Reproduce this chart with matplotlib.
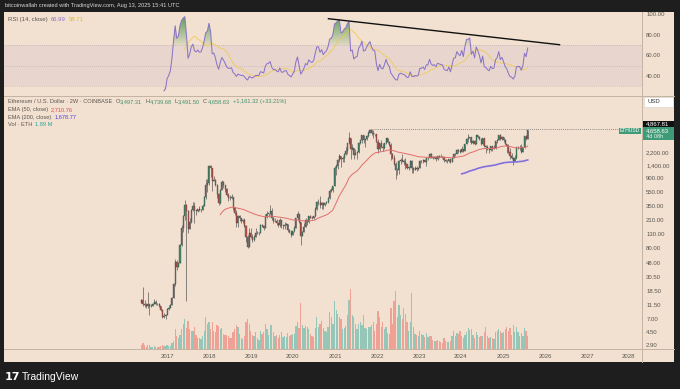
import numpy as np
import pandas as pd
import matplotlib
matplotlib.use("Agg")
import matplotlib.pyplot as plt
import matplotlib.dates as mdates
from matplotlib.patches import Rectangle
from matplotlib.path import Path

plt.rcParams['font.family'] = ['Liberation Sans', 'DejaVu Sans']

# ---- data: ETHUSD 2W candles (Coinbase) ----
start_date = '2016-05-23'
first_open = 12.5
closes = [
    13.8, 12.0, 11.6,
    10.9, 11.8, 11.0, 11.2, 11.9, 12.9, 11.9, 11.9, 11.0, 9.8, 7.6, 7.9, 8.2,
    9.9, 10.5, 11.4, 14.5, 23.6, 50.0, 43.0, 48.0, 90.0, 160, 245, 355, 290, 155, 200, 300, 345, 295, 285, 310, 295, 297, 350, 465, 700, 755,
    1370, 1250, 815, 840, 720, 520, 385, 600, 790, 715, 620, 500, 455, 450, 465, 320, 275, 195, 245, 225, 205, 210, 175, 118, 84, 138,
    117, 107, 120, 138, 137, 137, 180, 172, 162, 235, 265, 270, 290, 230, 205, 205, 190, 180, 212, 172, 172, 182, 183, 151, 141, 128,
    145, 160, 225, 265, 200, 123, 143, 170, 210, 200, 245, 230, 225, 240, 310, 390, 390, 355, 385, 352, 377, 395, 448, 575, 590, 685,
    1260, 1380, 1680, 1940, 1720, 1790, 2080, 2240, 2950, 3580, 2400, 2510, 1980, 2140, 2190, 3010, 3330, 3940, 3330, 3390, 3850, 4290, 4650, 4300, 4100, 4050,
    3080, 2400, 3010, 2630, 2540, 2950, 3520, 3060, 2830, 2060, 1810, 1450, 1200, 1170, 1600, 1700, 1620, 1570, 1470, 1280, 1300, 1620, 1250, 1200, 1265, 1220,
    1265, 1630, 1630, 1690, 1565, 1790, 1795, 2090, 1870, 1800, 1830, 1750, 1900, 1870, 1850, 1830, 1680, 1630, 1620, 1730, 1560, 1780, 2050, 2060, 2350, 2270,
    2230, 2470, 2290, 2880, 3490, 3520, 3640, 3010, 3250, 2930, 3900, 3700, 3420, 2930, 3540, 2690, 2610, 2430, 2320, 2660, 2470, 2500, 3180, 3360, 4000, 3420,
    3640, 3300, 2880, 2690, 2210, 1890, 1820, 1620, 1790, 2510, 2530, 2530, 2230, 2570, 3760, 3497.31, 4658.63,
]
highs = [
    14.2, 21.0, 13.4,
    12.4, 18.0, 12.0, 11.8, 12.2, 14.2, 13.5, 12.4, 12.1, 11.2, 10.0, 8.6, 8.5,
    10.3, 11.6, 11.7, 14.9, 24.5, 55, 53, 50, 92, 180, 250, 420, 365, 300, 230, 310, 390, 390, 300, 315, 350, 310, 370, 485, 860, 860,
    1420, 1430, 1260, 960, 880, 730, 540, 620, 830, 800, 720, 630, 535, 500, 515, 470, 330, 300, 255, 250, 230, 220, 225, 180, 125, 160,
    160, 130, 125, 160, 145, 142, 185, 185, 180, 265, 285, 275, 362, 320, 235, 230, 222, 195, 225, 215, 185, 197, 194, 185, 155, 150,
    148, 175, 230, 290, 232, 200, 145, 190, 225, 215, 248, 250, 240, 248, 330, 410, 440, 480, 390, 390, 380, 415, 475, 620, 630, 685,
    1350, 1440, 1750, 2040, 1940, 1940, 2140, 2640, 2960, 4380, 3600, 2890, 2520, 2400, 2250, 3050, 3360, 3950, 3970, 3470, 3920, 4460, 4867.81, 4550, 4700, 4150,
    4050, 3400, 3030, 3280, 3000, 2970, 3580, 3580, 3200, 2960, 2150, 1990, 1540, 1280, 1650, 1780, 2030, 1720, 1780, 1480, 1340, 1660, 1680, 1330, 1350, 1350,
    1275, 1680, 1680, 1740, 1720, 1840, 1840, 2140, 2120, 1920, 1860, 1920, 1930, 1960, 2030, 1890, 1860, 1740, 1670, 1750, 1760, 1870, 2140, 2130, 2400, 2450,
    2440, 2720, 2480, 2900, 3520, 4090, 3680, 3730, 3330, 3350, 3980, 3950, 3790, 3470, 3560, 3450, 2800, 2830, 2480, 2720, 2700, 2770, 3240, 3440, 4000, 4110,
    3750, 3740, 3430, 2860, 2860, 2500, 2100, 1850, 1960, 2740, 2740, 2780, 2880, 2590, 3860, 3940, 4739.68,
]
lows = [
    12.2, 11.0, 10.8,
    10.2, 10.5, 8.2, 10.7, 11.0, 11.8, 11.5, 11.6, 10.6, 9.3, 7.3, 7.4, 7.0,
    8.0, 9.7, 10.5, 11.3, 14.4, 22, 38, 42, 48, 88, 140, 215, 13, 135, 155, 195, 290, 195, 250, 280, 290, 280, 295, 355, 440, 560,
    700, 940, 580, 800, 680, 450, 360, 375, 590, 640, 560, 480, 410, 420, 440, 300, 250, 168, 170, 205, 195, 192, 170, 100, 82, 83,
    115, 100, 102, 118, 130, 128, 135, 165, 150, 160, 225, 235, 260, 215, 190, 200, 178, 165, 170, 160, 155, 158, 178, 140, 137, 118,
    127, 140, 160, 215, 195, 90, 125, 140, 165, 180, 195, 225, 220, 220, 232, 300, 360, 320, 310, 310, 340, 375, 380, 440, 560, 565,
    685, 1000, 1240, 1570, 1300, 1560, 1550, 1960, 2050, 2880, 1730, 2330, 1720, 1980, 1720, 2160, 2860, 3030, 2950, 2650, 3270, 3680, 4160, 3900, 3500, 3780,
    3050, 2160, 2250, 2570, 2300, 2460, 2900, 2960, 2710, 1700, 1710, 1430, 880, 1000, 1050, 1440, 1540, 1420, 1220, 1230, 1190, 1270, 1080, 1070, 1190, 1150,
    1190, 1260, 1530, 1500, 1560, 1370, 1690, 1780, 1790, 1750, 1770, 1620, 1690, 1820, 1840, 1810, 1550, 1580, 1530, 1580, 1520, 1560, 1780, 1930, 2030, 2150,
    2160, 2190, 2170, 2280, 2860, 3050, 3060, 2850, 2860, 2820, 2900, 3580, 3360, 2820, 2840, 2610, 2110, 2320, 2150, 2260, 2310, 2410, 2450, 3040, 3350, 3300,
    3300, 3060, 2860, 2100, 2120, 1760, 1760, 1385, 1560, 1760, 2420, 2380, 2110, 2190, 2520, 3360, 3491.50,
]
volumes = [  # million ETH
    0.5, 0.9, 0.6,
    0.3, 0.5, 0.6, 0.3, 0.3, 0.4, 0.3, 0.3, 0.3, 0.4, 0.5, 0.4, 0.4,
    0.5, 0.4, 0.4, 0.8, 1.2, 2.8, 1.8, 1.5, 2.0, 2.8, 3.5, 4.2, 3.0, 4.0, 2.8, 2.5, 2.6, 3.2, 2.0, 1.6, 1.5, 1.4, 1.8, 2.6, 4.5, 3.5,
    3.8, 2.8, 3.9, 2.5, 2.4, 3.4, 3.3, 2.9, 3.0, 2.2, 2.0, 2.0, 1.9, 1.5, 1.6, 2.4, 2.8, 3.4, 3.1, 2.2, 1.6, 1.4, 1.8, 3.8, 4.2, 3.6,
    2.6, 2.0, 1.9, 2.4, 1.6, 1.3, 2.6, 2.2, 2.4, 3.5, 2.8, 2.0, 3.4, 3.4, 2.4, 1.8, 2.0, 1.6, 2.0, 2.4, 1.7, 1.8, 1.7, 2.3, 1.9, 2.0,
    2.1, 2.2, 3.3, 3.9, 3.0, 6.5, 3.4, 3.0, 3.3, 3.2, 2.8, 2.2, 1.8, 1.7, 3.0, 4.6, 3.2, 3.5, 4.0, 3.0, 2.5, 2.4, 3.2, 5.2, 4.6, 3.6,
    6.8, 5.5, 5.0, 4.6, 4.3, 2.8, 3.0, 3.3, 4.8, 7.0, 8.5, 4.8, 4.5, 3.5, 2.8, 3.6, 3.9, 3.4, 4.8, 3.0, 2.9, 3.1, 3.2, 3.4, 3.9, 2.6,
    3.6, 5.4, 4.5, 3.2, 3.8, 2.8, 3.2, 2.3, 2.2, 5.8, 3.5, 6.8, 8.2, 4.6, 6.2, 4.8, 4.2, 5.8, 5.0, 3.8, 2.5, 3.8, 8.0, 3.2, 2.2, 2.0,
    1.8, 2.6, 2.1, 2.0, 1.7, 2.3, 1.7, 1.8, 1.9, 1.3, 1.1, 1.2, 1.3, 1.1, 1.0, 0.9, 1.5, 1.2, 1.0, 1.0, 1.1, 1.8, 2.5, 1.9, 2.3, 2.2,
    2.6, 1.9, 1.5, 2.0, 2.4, 3.0, 2.7, 2.8, 2.0, 1.6, 2.4, 2.0, 1.7, 1.8, 1.9, 2.4, 3.2, 1.8, 1.6, 1.7, 1.5, 1.4, 2.4, 2.6, 2.9, 2.6,
    2.3, 2.4, 2.8, 3.2, 2.5, 3.0, 2.0, 3.4, 2.4, 3.2, 2.4, 1.9, 2.3, 1.8, 3.0, 2.6, 1.89,
]
price_ticks = [2.9, 4.5, 7, 11.5, 18.5, 30.5, 48, 80, 130, 210, 350, 550, 900, 1400, 2200]
rsi_ticks = [40, 60, 80, 100]
years = list(range(2017, 2029))
ath = 4867.81
ath_date = '2021-11-08'
trend_pts = [('2020-11-05', 95.5), ('2026-05-08', 70.3)]

# ---- colours ----
BG = '#f2e1d0'
DARK = '#1e1e1e'
UP, DOWN = '#3f8f6d', '#c9534b'
TXT = '#5a5550'

W, H = 680, 389
def fx(x): return x / W
def fy(y): return 1 - y / H

closes = np.array(closes, float)
highs = np.array(highs, float)
lows = np.array(lows, float)
volumes = np.array(volumes, float)
opens = np.concatenate([[first_open], closes[:-1]])
highs = np.maximum(highs, np.maximum(opens, closes))
lows = np.minimum(lows, np.minimum(opens, closes))
n = len(closes)
dates = pd.date_range(start_date, periods=n, freq='14D')
x = mdates.date2num(dates)


def ema(v, span):
    out = np.full(len(v), np.nan)
    out[span - 1] = v[:span].mean()
    a = 2 / (span + 1)
    for i in range(span, len(v)):
        out[i] = a * v[i] + (1 - a) * out[i - 1]
    return out


def rma(v, span):
    out = np.full(len(v), np.nan)
    out[span - 1] = v[:span].mean()
    for i in range(span, len(v)):
        out[i] = (out[i - 1] * (span - 1) + v[i]) / span
    return out


d = np.diff(closes)
up = rma(np.maximum(d, 0), 14)
dn = rma(np.maximum(-d, 0), 14)
rsi = np.concatenate([[np.nan], 100 - 100 / (1 + up / dn)])
rsi_ma = pd.Series(rsi).rolling(14).mean().values
ema50 = ema(closes, 50)
ema200 = ema(closes, 200)

# ---- figure / panes ----
fig = plt.figure(figsize=(6.8, 3.89), dpi=100, facecolor=DARK)
fig.patches.append(Rectangle((fx(4), fy(362)), (674 - 4) / W, (362 - 12) / H,
                             transform=fig.transFigure, facecolor=BG, edgecolor='none', zorder=-5))
ax_rsi = fig.add_axes([fx(4), fy(95), (642 - 4) / W, (95 - 12) / H])
ax_p = fig.add_axes([fx(4), fy(349), (642 - 4) / W, (349 - 96) / H])
ax_v = ax_p.twinx()
ax_v.set_zorder(ax_p.get_zorder() - 1)
for a in (ax_rsi, ax_p, ax_v):
    a.patch.set_visible(False)
    for s in a.spines.values():
        s.set_visible(False)

x17 = mdates.date2num(pd.Timestamp('2017-01-01'))
ppd = 42.0 / 365.25
xlim = (x17 - (167 - 4) / ppd, x17 + (642 - 167) / ppd)

# separators
for ln in [([fx(4), fx(674)], [fy(95.5), fy(95.5)]),
           ([fx(4), fx(674)], [fy(349), fy(349)]),
           ([fx(642), fx(642)], [fy(12), fy(362)])]:
    fig.add_artist(plt.Line2D(ln[0], ln[1], color='#c4b3a2', lw=0.7))

# ---- RSI pane ----
ax_rsi.axhspan(30, 70, color='#7e57c2', alpha=0.08, lw=0)
for lvl in (70, 50, 30):
    ax_rsi.axhline(lvl, color='#9c8f9a', lw=0.5, ls=(0, (1, 2)), alpha=0.7)
ax_rsi.plot(x, rsi_ma, color='#f0c94a', lw=0.7, alpha=0.8)
ax_rsi.plot(x, rsi, color='#8b74c6', lw=0.75)
for lvl, top, rgb, cond in [(70, 100, (0.22, 0.56, 0.24), rsi > 70), (30, 0, (0.9, 0.3, 0.3), rsi < 30)]:
    pc = ax_rsi.fill_between(x, lvl, rsi, where=cond, interpolate=True, facecolor='none', lw=0)
    paths = pc.get_paths()
    if not paths:
        continue
    g = np.zeros((100, 1, 4))
    g[..., :3] = rgb
    g[:, 0, 3] = np.linspace(0.1, 0.85, 100)
    lo, hi = (lvl, top) if top > lvl else (top, lvl)
    if top < lvl:
        g = g[::-1]
    im = ax_rsi.imshow(g, extent=[xlim[0], xlim[1], lo, hi], aspect='auto', origin='lower', zorder=1)
    im.set_clip_path(Path.make_compound_path(*paths), transform=ax_rsi.transData)
tx = mdates.date2num(pd.to_datetime([p[0] for p in trend_pts]))
ax_rsi.plot(tx, [p[1] for p in trend_pts], color='#111111', lw=1.0)
ax_rsi.set_xlim(xlim)
ax_rsi.set_ylim(21.6, 102)
ax_rsi.set_xticks([])
ax_rsi.yaxis.tick_right()
ax_rsi.set_yticks(rsi_ticks)
ax_rsi.set_yticklabels([f'{t:.2f}' for t in rsi_ticks])
ax_rsi.tick_params(axis='y', length=0, labelsize=4.3, labelcolor=TXT, pad=3)

# ---- price pane ----
col = np.where(closes >= opens, UP, DOWN)
ax_v.bar(x, volumes, width=11, color=np.where(closes >= opens, '#26a69a', '#ef5350'), alpha=0.45, lw=0)
ax_v.set_ylim(0, 36)
ax_v.set_yticks([])

ax_p.set_yscale('log')
ax_p.vlines(x, lows, highs, color='#4a4a4a', lw=0.45, zorder=2)
ax_p.bar(x, np.maximum(np.abs(closes - opens), closes * 0.004), bottom=np.minimum(opens, closes),
         width=9, color=col, edgecolor='#3c3c3c', lw=0.25, zorder=3)
ax_p.plot(x, ema50, color='#e26d6d', lw=0.7, zorder=4)
ax_p.plot(x, ema200, color='#8070e0', lw=1.2, zorder=4)
ax_p.hlines(ath, mdates.date2num(pd.Timestamp(ath_date)), xlim[1], color='#6a6a6a', lw=0.6,
            linestyles=(0, (1, 1.5)), zorder=1)
ax_p.set_xlim(xlim)
ax_p.set_ylim(2.53, 15070)
ax_p.yaxis.tick_right()
ax_p.set_yticks(price_ticks)
ax_p.set_yticklabels([f'{t:,.2f}' for t in price_ticks])
ax_p.yaxis.set_minor_locator(matplotlib.ticker.NullLocator())
ax_p.tick_params(axis='y', length=0, labelsize=4.3, labelcolor=TXT, pad=3)
ax_p.set_xticks(mdates.date2num(pd.to_datetime([f'{y}-01-01' for y in years])))
ax_p.set_xticklabels([str(y) for y in years])
ax_p.tick_params(axis='x', length=0, labelsize=4.3, labelcolor=TXT, pad=3.5)

# ---- text ----
fig.canvas.draw()
rend = fig.canvas.get_renderer()


def line_of(parts, x0, y0, size=4.1, gap=3):
    xp = x0
    for s, c, g in parts:
        t = fig.text(fx(xp), fy(y0), s, color=c, fontsize=size, va='center', ha='left')
        xp += t.get_window_extent(rend).width + (gap if g else 0.3)


fig.text(fx(5), fy(5.5), 'bitcoinwallah created with TradingView.com, Aug 13, 2025 15:41 UTC',
         color='#d8d8d8', fontsize=4.1, va='center')
line_of([('RSI (14, close)', TXT, 1), ('66.99', '#8b74c6', 1), ('58.71', '#e0b830', 1)], 8, 19.5, 4.3)
G = '#3f8f6d'
line_of([('Ethereum / U.S. Dollar · 2W · COINBASE', TXT, 1), ('O', TXT, 0), ('3,497.31', G, 1),
         ('H', TXT, 0), ('4,739.68', G, 1), ('L', TXT, 0), ('3,491.50', G, 1), ('C', TXT, 0), ('4,658.63', G, 1),
         ('+1,161.32 (+33.21%)', G, 1)], 8, 102)
line_of([('EMA (50, close)', TXT, 1), ('2,710.76', '#e04848', 1)], 8, 109.5)
line_of([('EMA (200, close)', TXT, 1), ('1,678.77', '#4a40e0', 1)], 8, 117)
line_of([('Vol · ETH', TXT, 1), ('1.89 M', '#26a69a', 1)], 8, 124.5)

# right-axis boxes
fig.patches.append(Rectangle((fx(644), fy(107)), 29 / W, 10 / H, transform=fig.transFigure,
                             facecolor='white', edgecolor='#d8cfc6', lw=0.4))
fig.text(fx(648), fy(102), 'USD', fontsize=4.3, color='#333333', va='center')
fig.patches.append(Rectangle((fx(643), fy(127)), 31 / W, 6.5 / H, transform=fig.transFigure,
                             facecolor='#111111', edgecolor='none'))
fig.text(fx(646), fy(123.8), '4,867.81', fontsize=4.3, color='white', va='center')
fig.patches.append(Rectangle((fx(643), fy(140)), 31 / W, 13 / H, transform=fig.transFigure,
                             facecolor='#3f9a78', edgecolor='none'))
fig.text(fx(646), fy(130.5), '4,658.63', fontsize=4.3, color='white', va='center')
fig.text(fx(646), fy(136.5), '4d 08h', fontsize=4.0, color='#e8f4ee', va='center')
fig.patches.append(Rectangle((fx(619), fy(134)), 22 / W, 6 / H, transform=fig.transFigure,
                             facecolor='#3f9a78', edgecolor='none'))
fig.text(fx(630), fy(131), 'ETHUSD', fontsize=3.6, color='white', va='center', ha='center')

# footer logo
fig.text(fx(5), fy(377), '17', fontsize=8, color='white', fontweight='bold', va='center', family='DejaVu Sans')
fig.text(fx(22), fy(377), 'TradingView', fontsize=7.5, color='white', va='center')

fig.savefig('out.png', dpi=100, facecolor=DARK)
